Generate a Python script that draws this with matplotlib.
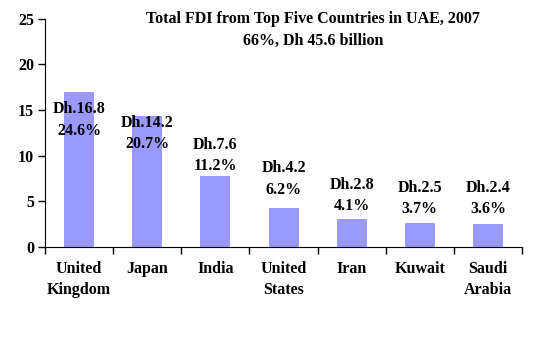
import matplotlib
matplotlib.use("Agg")
import matplotlib.pyplot as plt
import numpy as np

# values (Dh billion)
countries = ["United\nKingdom", "Japan", "India", "United\nStates", "Iran", "Kuwait", "Saudi\nArabia"]
values = [17.0, 14.35, 7.75, 4.3, 3.0, 2.65, 2.55]
dh_labels = ["Dh.16.8", "Dh.14.2", "Dh.7.6", "Dh.4.2", "Dh.2.8", "Dh.2.5", "Dh.2.4"]
pct_labels = ["24.6%", "20.7%", "11.2%", "6.2%", "4.1%", "3.7%", "3.6%"]
# where the data labels sit (centre of the first line, in axis units)
label_y = [15.1, 13.6, 11.2, 8.6, 6.8, 6.5, 6.5]

plt.rcParams['font.family'] = ['Liberation Serif', 'DejaVu Serif']
plt.rcParams['font.weight'] = 'bold'
fs = 11.5

fig = plt.figure(figsize=(5.41, 3.38), dpi=100)
ax = fig.add_axes([0.0832, 0.27, 0.965 - 0.0832, 0.944 - 0.27])

x = np.arange(len(countries))
ax.bar(x, values, width=0.44, color="#9999FF")

for xi, ly, d, p in zip(x, label_y, dh_labels, pct_labels):
    ax.text(xi, ly, d, ha="center", va="center", fontsize=fs)
    ax.text(xi, ly - 2.35, p, ha="center", va="center", fontsize=fs)

ax.set_xlim(-0.5, len(countries) - 0.5)
ax.set_ylim(0, 25)
ax.set_yticks([0, 5, 10, 15, 20, 25])
ax.set_xticks(x)
ax.set_xticklabels(countries, fontsize=fs, linespacing=1.45)
ax.set_xticks(np.arange(len(countries) + 1) - 0.5, minor=True)
ax.tick_params(axis="x", which="major", length=0, pad=10)
ax.tick_params(axis="x", which="minor", length=5, width=1)
ax.tick_params(axis="y", length=5, width=1, labelsize=fs, pad=3)
for s in ["top", "right"]:
    ax.spines[s].set_visible(False)

fig.text(0.578, 0.911, "Total FDI from Top Five Countries in UAE, 2007\n66%, Dh 45.6 billion",
         ha="center", va="center", fontsize=fs, linespacing=1.45)

fig.savefig("out.png", dpi=100)
